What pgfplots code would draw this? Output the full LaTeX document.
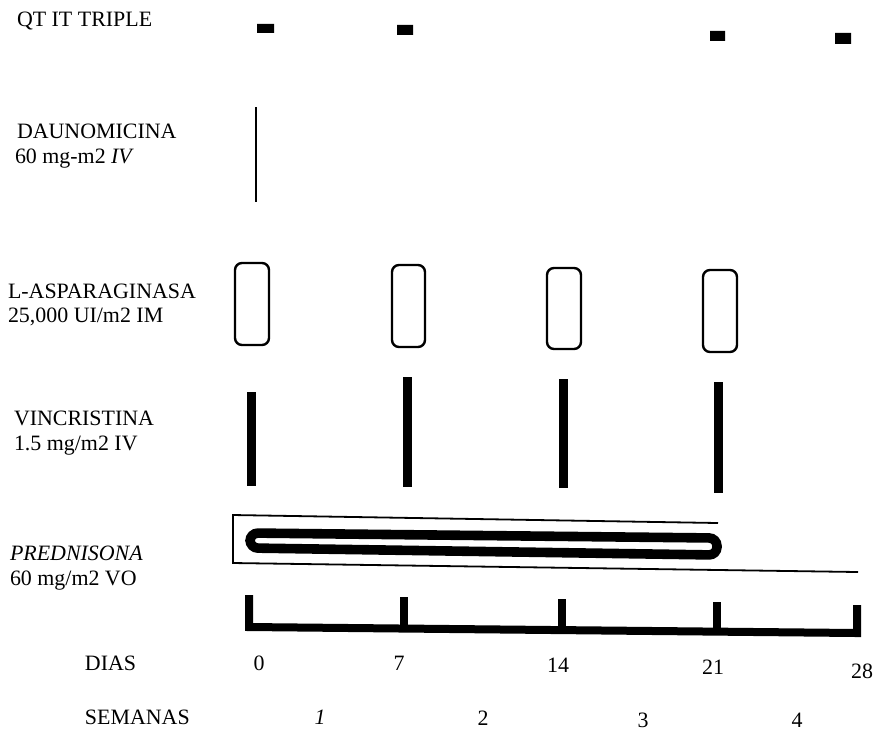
\documentclass[border=0pt]{standalone}
\usepackage{fontspec}
\setmainfont{Liberation Serif}
\usepackage{pgfplots}
\pgfplotsset{compat=1.18}
\begin{document}
\fontsize{11}{13}\selectfont
\begin{tikzpicture}[lab/.style={font=\fontsize{11}{13}\selectfont, inner sep=0pt, outer sep=0pt}]
\begin{axis}[
  scale only axis, width=440bp, height=364.5bp,
  xmin=0, xmax=880, ymin=0, ymax=729, y dir=reverse,
  hide axis, clip=false]
% QT IT triple
\addplot[fill=black, draw=none] coordinates {(257,24)(274,24)(274,33)(257,33)(257,24)};
\addplot[fill=black, draw=none] coordinates {(397,25)(413,25)(413,35)(397,35)(397,25)};
\addplot[fill=black, draw=none] coordinates {(710,31)(725,31)(725,41)(710,41)(710,31)};
\addplot[fill=black, draw=none] coordinates {(835,33)(851,33)(851,44)(835,44)(835,33)};
% Daunomicina
\addplot[black, line width=0.75bp] coordinates {(256,107)(256,202)};
% L-asparaginasa
\addplot[black, line width=1.2bp, rounded corners=3.5bp] coordinates {(252,263)(269,263)(269,345)(235,345)(235,263)(252,263)};
\addplot[black, line width=1.2bp, rounded corners=3.5bp] coordinates {(408,265)(425,265)(425,347)(392,347)(392,265)(408,265)};
\addplot[black, line width=1.2bp, rounded corners=3.5bp] coordinates {(564,268)(581,268)(581,349)(547,349)(547,268)(564,268)};
\addplot[black, line width=1.2bp, rounded corners=3.5bp] coordinates {(720,270)(737,270)(737,352)(703,352)(703,270)(720,270)};
% Vincristina
\addplot[black, line width=4.5bp] coordinates {(251,392)(251,486)};
\addplot[black, line width=4.5bp] coordinates {(407,377)(407,487)};
\addplot[black, line width=4.5bp] coordinates {(563,379)(563,488)};
\addplot[black, line width=4.5bp] coordinates {(718,382)(718,493)};
% Prednisona
\addplot[black, line width=0.9bp] coordinates {(718,523)(233,515)(233,563)(858,572)};
\addplot[black, line width=4.8bp, rounded corners=4bp] coordinates {(480,535.5)(717,538)(717,555)(250,548)(250,533)(480,535.5)};
% Time line
\addplot[black, line width=4bp] coordinates {(249,595)(249,627)(857,633)(857,605)};
\addplot[black, line width=4bp] coordinates {(404,597)(404,629)};
\addplot[black, line width=4bp] coordinates {(562,599)(562,630)};
\addplot[black, line width=4bp] coordinates {(717,602)(717,632)};
% Labels
\node[lab, anchor=base west] at (axis cs:17,27) {QT IT TRIPLE};
\node[lab, anchor=base west] at (axis cs:17,138) {DAUNOMICINA};
\node[lab, anchor=base west] at (axis cs:15,163) {60 mg-m2 \textit{IV}};
\node[lab, anchor=base west] at (axis cs:8,298) {L-ASPARAGINASA};
\node[lab, anchor=base west] at (axis cs:8,322) {25,000 UI/m2 IM};
\node[lab, anchor=base west] at (axis cs:14,425) {VINCRISTINA};
\node[lab, anchor=base west] at (axis cs:14,450) {1.5 mg/m2 IV};
\node[lab, anchor=base west] at (axis cs:10,560) {\textit{PREDNISONA}};
\node[lab, anchor=base west] at (axis cs:10,585) {60 mg/m2 VO};
\node[lab, anchor=base west] at (axis cs:85,670) {DIAS};
\node[lab, anchor=base west] at (axis cs:85,724) {SEMANAS};
\node[lab, anchor=base] at (axis cs:259,670) {0};
\node[lab, anchor=base] at (axis cs:399,670) {7};
\node[lab, anchor=base] at (axis cs:558,672) {14};
\node[lab, anchor=base] at (axis cs:713,674) {21};
\node[lab, anchor=base] at (axis cs:862,678) {28};
\node[lab, anchor=base] at (axis cs:320,724) {\textit{1}};
\node[lab, anchor=base] at (axis cs:483,725) {2};
\node[lab, anchor=base] at (axis cs:643,727) {3};
\node[lab, anchor=base] at (axis cs:797,727) {4};
\end{axis}
\pgfresetboundingbox
\path (current axis.south west) rectangle (current axis.north east);
\end{tikzpicture}
\end{document}
